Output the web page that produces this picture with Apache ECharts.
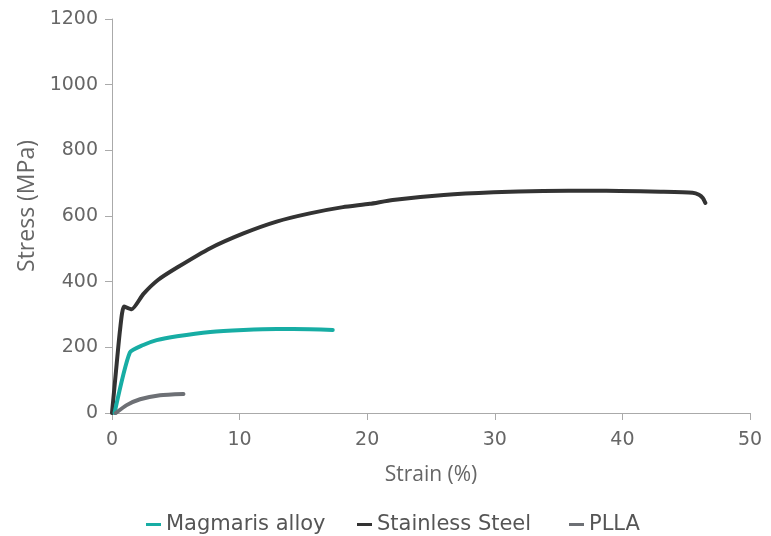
<!DOCTYPE html>
<html>
<head>
<meta charset="utf-8">
<title>Stress–strain curves</title>
<script src="https://cdn.jsdelivr.net/npm/echarts@6/dist/echarts.min.js"></script>
<style>
  html, body { margin: 0; padding: 0; background: #ffffff; }
  #chart { width: 771px; height: 536px; }
</style>
</head>
<body>
<div id="chart"></div>
<script>
// Series names
const seriesNames = ['Magmaris alloy', 'Stainless Steel', 'PLLA'];

// Strain (%) and stress (MPa) samples for each material
const magmarisStrain = [0.2, 1.4, 2.45, 3.5, 5.1, 7.7, 10.3, 12.9, 15.5, 17.3];
const magmarisStress = [0, 184, 207, 222, 234, 247, 253, 256, 255, 253];

const steelStrain = [0, 0.37, 0.63, 0.94, 1.54, 2.45, 3.6, 5.1, 7.7, 10.3, 12.9, 15.5, 18.1, 20.2, 22.0, 26.0, 29.9, 33.8, 37.7, 39.8, 43.0, 45.5, 46.0, 46.3, 46.5];
const steelStress = [0, 151, 253, 324, 316, 362, 405, 443, 502, 547, 583, 608, 627, 637, 649, 664, 672, 676, 677, 676, 674, 671, 665, 655, 640];

const pllaStrain = [0.3, 1.15, 2.2, 3.76, 5.6];
const pllaStress = [0, 24, 42, 54, 58];

// Axis ranges and tick steps
const xMin = 0, xMax = 50, xStep = 10;
const yMin = 0, yMax = 1200, yStep = 200;

// Left edge of each legend entry
const legendLefts = [141, 352, 564];

const colors = ['#17ada4', '#333333', '#6d7075'];

const pair = (xs, ys) => xs.map((x, i) => [x, ys[i]]);

const labelFont = 'DejaVu Sans';
const titleFont = 'Open Sans';

const chart = echarts.init(document.getElementById('chart'), null, { renderer: 'canvas' });

const legends = seriesNames.map((name, i) => ({
  left: legendLefts[i],
  top: 509,
  itemWidth: 15,
  itemHeight: 3,
  icon: 'rect',
  textStyle: { fontFamily: labelFont, fontSize: 21, color: '#555555' },
  data: [name]
}));

const lineSeries = (name, xs, ys, color, z) => ({
  name, type: 'line', showSymbol: false, smooth: 0.2,
  lineStyle: { width: 4, color, cap: 'round', join: 'round' },
  itemStyle: { color },
  data: pair(xs, ys), z
});

chart.setOption({
  backgroundColor: '#ffffff',
  animation: false,
  color: colors,
  grid: { left: 112, right: 21, top: 19, bottom: 123, containLabel: false },
  legend: legends,
  xAxis: {
    type: 'value',
    min: xMin, max: xMax, interval: xStep,
    name: 'Strain (%)',
    nameLocation: 'middle',
    nameGap: 52,
    nameTextStyle: { fontFamily: titleFont, fontSize: 21, color: '#666666' },
    axisLine: { show: true, lineStyle: { color: '#aaaaaa', width: 1 } },
    axisTick: { show: true, length: 7, lineStyle: { color: '#aaaaaa' } },
    axisLabel: { fontFamily: labelFont, fontSize: 19, color: '#666666', margin: 18 },
    splitLine: { show: false }
  },
  yAxis: {
    type: 'value',
    min: yMin, max: yMax, interval: yStep,
    name: 'Stress (MPa)',
    nameLocation: 'middle',
    nameGap: 70,
    nameTextStyle: { fontFamily: titleFont, fontSize: 23, color: '#666666', padding: [0, 0, 0, 20] },
    axisLine: { show: true, lineStyle: { color: '#aaaaaa', width: 1 } },
    axisTick: { show: true, length: 7, lineStyle: { color: '#aaaaaa' } },
    axisLabel: { fontFamily: labelFont, fontSize: 19, color: '#666666', margin: 14, formatter: (v) => String(v) },
    splitLine: { show: false }
  },
  series: [
    lineSeries(seriesNames[0], magmarisStrain, magmarisStress, colors[0], 3),
    lineSeries(seriesNames[1], steelStrain, steelStress, colors[1], 2),
    lineSeries(seriesNames[2], pllaStrain, pllaStress, colors[2], 4)
  ]
});
</script>
</body>
</html>
